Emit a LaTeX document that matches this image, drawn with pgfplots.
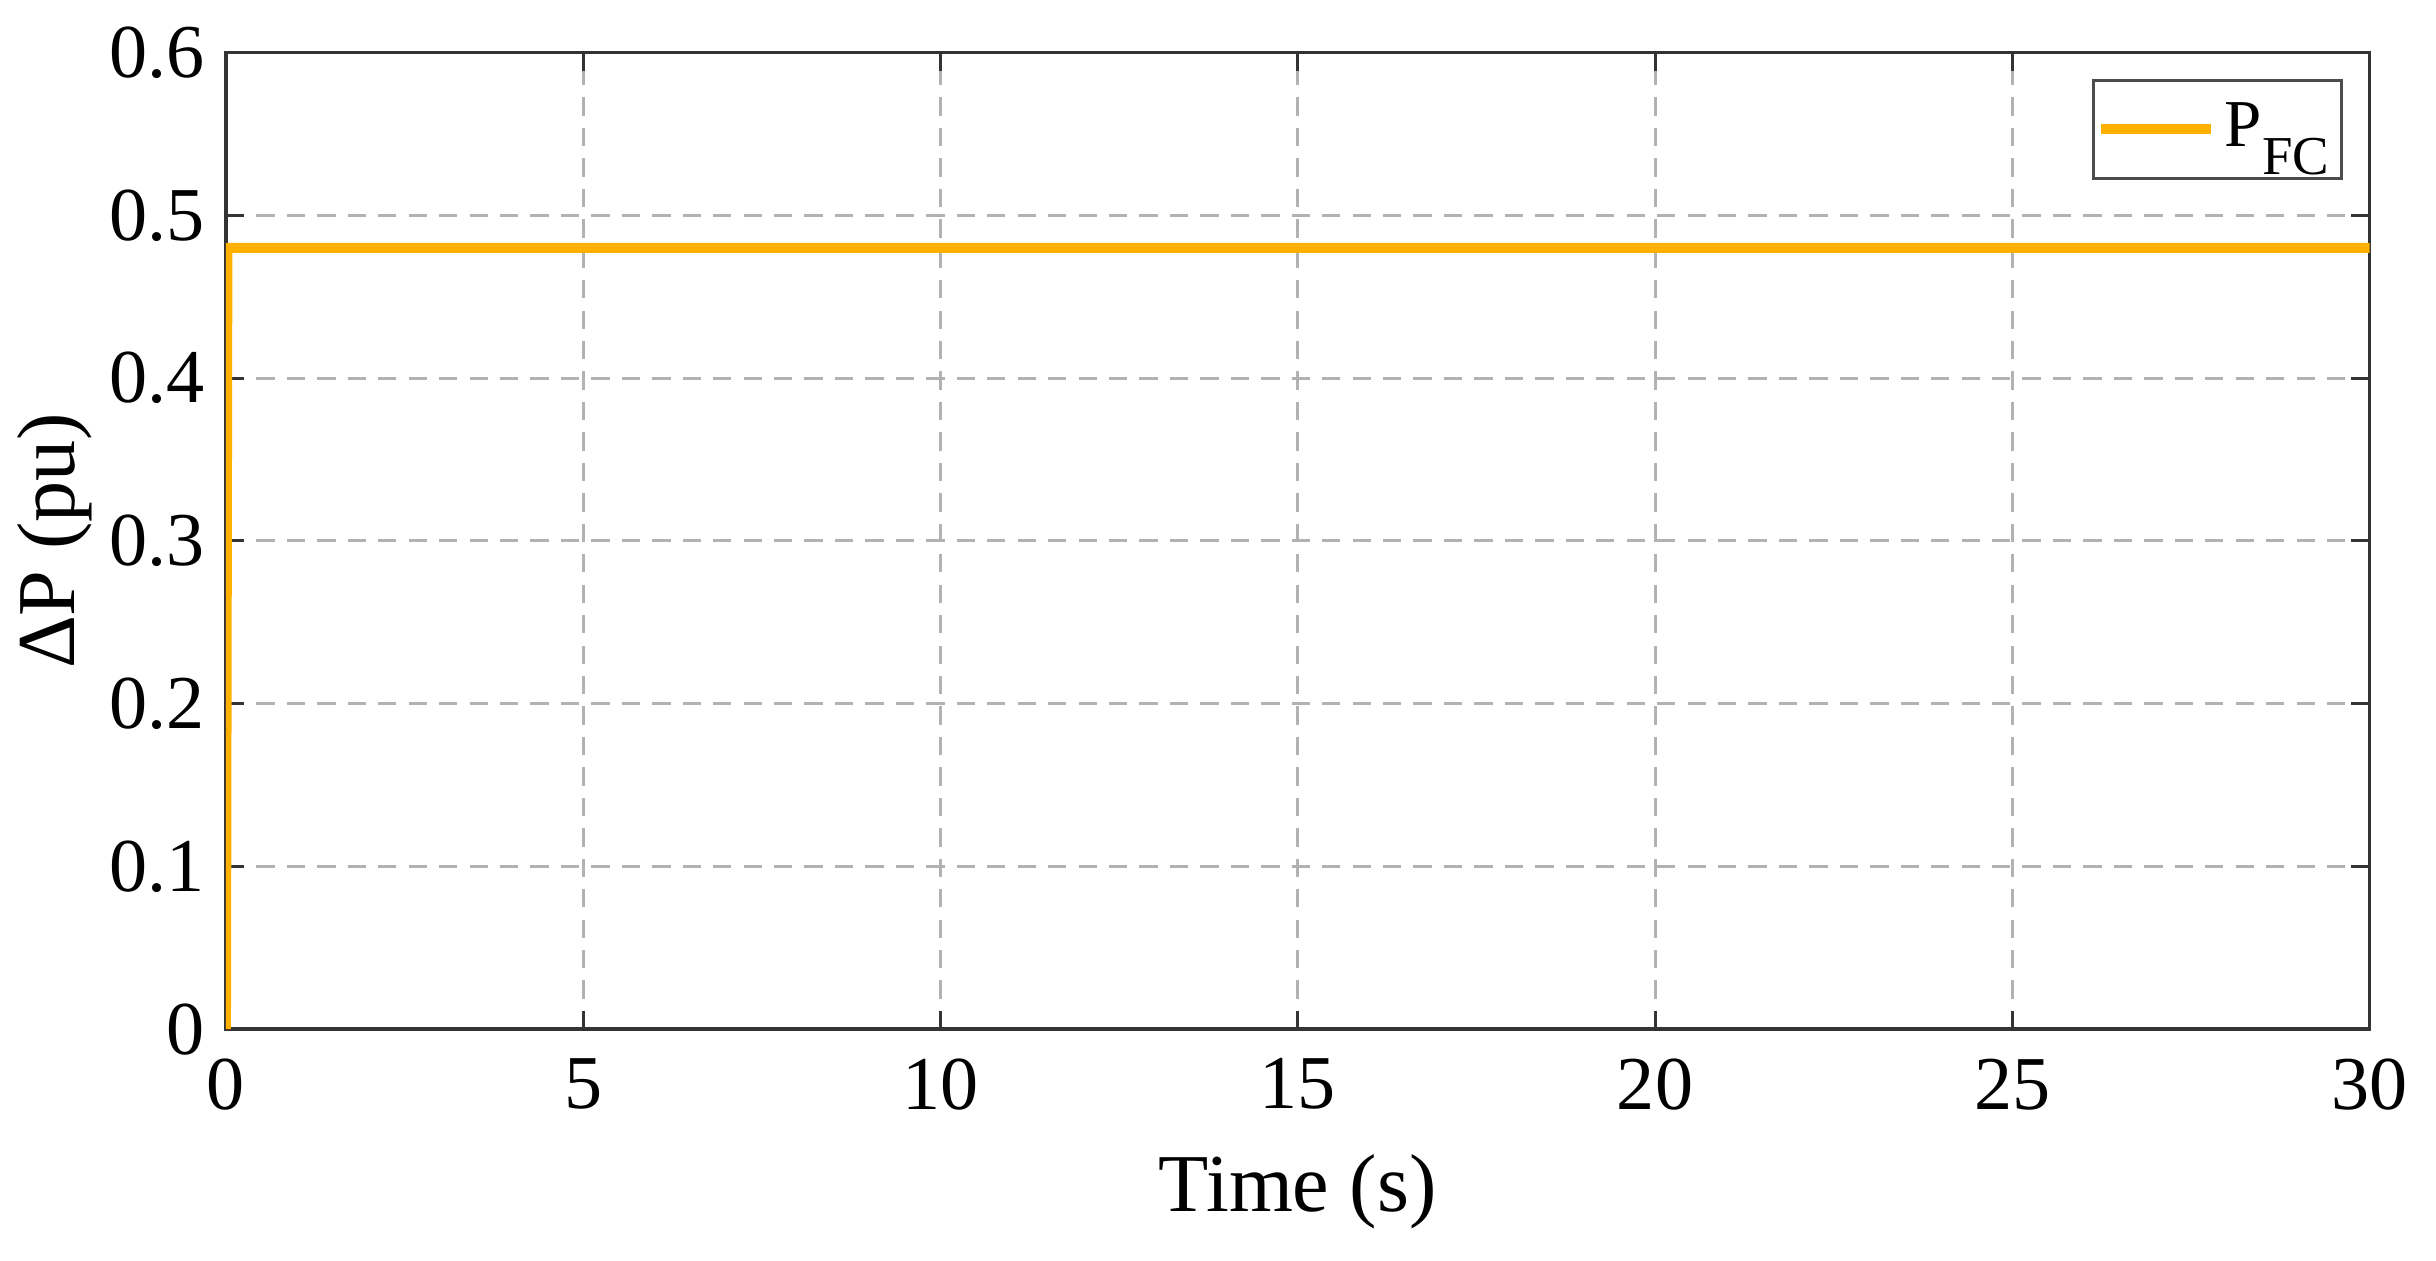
\documentclass[border=0pt]{standalone}
\usepackage{fontspec}
\setmainfont{Liberation Serif}
\usepackage{pgfplots}
\pgfplotsset{compat=1.18}
\definecolor{pfc}{RGB}{255,176,0}
\begin{document}
\begin{tikzpicture}
\path[use as bounding box] (-37.1pt,-38pt) rectangle (362.9pt,169pt);
\begin{axis}[
  at={(0,0)}, anchor=south west,
  scale only axis,
  width=352pt, height=160.4pt,
  xmin=0, xmax=30, ymin=0, ymax=0.6,
  xtick={0,5,...,30}, ytick={0,0.1,...,0.6},
  yticklabels={0,0.1,0.2,0.3,0.4,0.5,0.6},
  /pgf/number format/assume math mode=true,
  tick label style={font=\fontsize{12.5}{14}\selectfont},
  xticklabel style={yshift=-1.3pt},
  label style={font=\fontsize{13.5}{15}\selectfont},
  xlabel={Time (s)},
  ylabel={ΔP (pu)},
  xlabel style={at={(axis description cs:0.5,0)}, anchor=north, yshift=-17pt},
  ylabel style={at={(axis description cs:0,0.5)}, anchor=south, yshift=18.5pt},
  tick align=inside,
  major tick length=3pt,
  tick style={black!80, line width=0.5pt},
  axis line style={black!80, line width=0.6pt},
  grid=major,
  major grid style={densely dashed, gray!60, line width=0.5pt},
  legend style={at={(axis description cs:0.9875,0.973)}, anchor=north east,
    draw=black!70, line width=0.5pt, font=\fontsize{11}{12}\selectfont,
    inner xsep=0.5pt, inner ysep=2.2pt,
    nodes={inner sep=1.5pt}},
  legend cell align=left,
  legend image code/.code={\draw[#1, line width=1.6pt] (0pt,0pt) -- (18pt,0pt);},
]
\addplot[color=pfc, line width=1.65pt] coordinates {(0,0) (0.02,0.48) (30,0.48)};
\addlegendentry{P\raisebox{-4.5pt}{\fontsize{9}{10}\selectfont FC}}
\end{axis}
\end{tikzpicture}
\end{document}
